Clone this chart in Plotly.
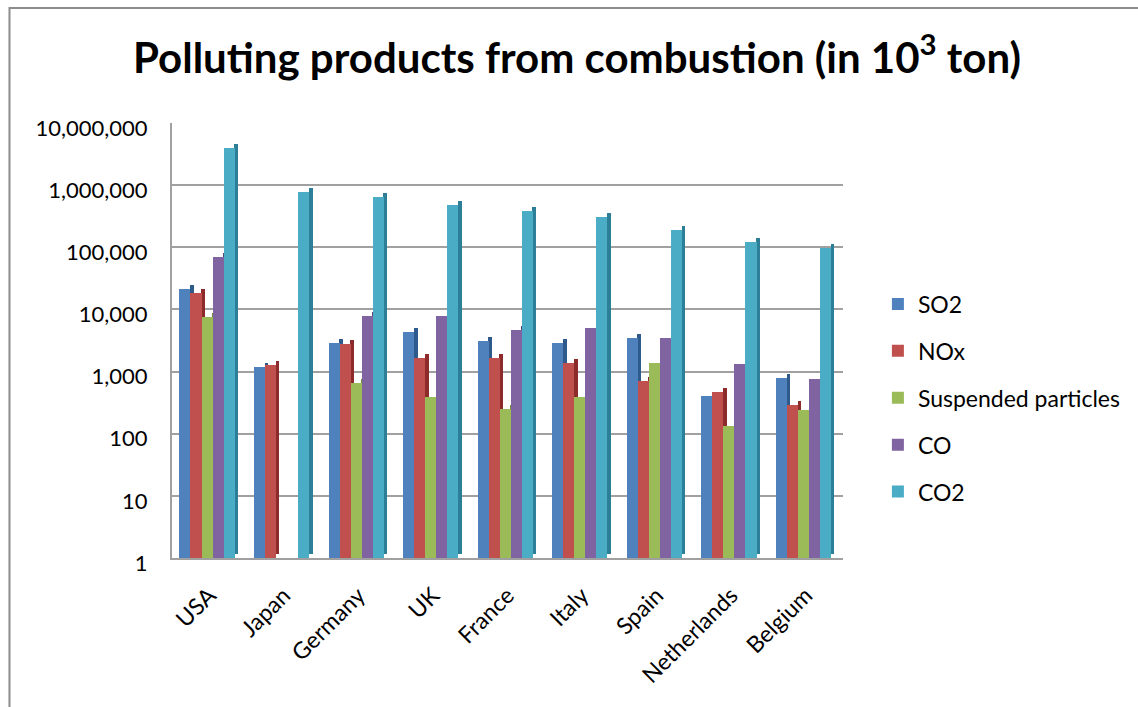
import plotly.graph_objects as go
import numpy as np

countries = ["USA", "Japan", "Germany", "UK", "France", "Italy", "Spain", "Netherlands", "Belgium"]
so2 = [21000, 1180, 2930, 4300, 3150, 2930, 3450, 405, 783]
nox = [18700, 1280, 2790, 1640, 1680, 1365, 708, 477, 291]
suspended = [7500, 1, 650, 395, 247, 386, 1365, 135, 242]
co = [71000, 1, 7880, 7880, 4700, 5000, 3450, 1315, 754]
co2 = [3960000, 790000, 633000, 483000, 387000, 306000, 191000, 123000, 99000]

series_names = ["SO2", "NOx", "Suspended particles", "CO", "CO2"]
series_values = [so2, nox, suspended, co, co2]
colors = ["#4F81BD", "#C0504D", "#9BBB59", "#8064A2", "#4BACC6"]
side_colors = ["#2F5A8C", "#8C2B29", "#6E8C36", "#5A427A", "#2C7F96"]
tick_vals = [1, 10, 100, 1000, 10000, 100000, 1000000, 10000000]
tick_text = ["1", "10", "100", "1,000", "10,000", "100,000", "1,000,000", "10,000,000"]

FONT = "Lato"
W, H = 1138, 707
ml, mr, mt, mb = 172, 1138 - 845, 123, 707 - 558
pw, ph = W - ml - mr, H - mt - mb

fig = go.Figure()
xs = np.arange(len(countries))
bw = 0.148
start = -0.40
depth = 0.05
lift = 10 ** (4 / 62.0)  # pixel-lift for the 3D side face in log units

for i, (name, vals, c, sc) in enumerate(zip(series_names, series_values, colors, side_colors)):
    off = start + i * bw
    # side face (darker) to give a 3D look
    fig.add_trace(go.Bar(
        x=xs, y=[v * lift - lift for v in vals], base=[lift] * len(vals),
        width=depth, offset=off + bw - 0.005, marker=dict(color=sc, line=dict(width=0)),
        showlegend=False, hoverinfo="skip"))
    fig.add_trace(go.Bar(
        x=xs, y=vals, name=name, width=bw, offset=off,
        marker=dict(color=c, line=dict(width=0)), legendgroup=name))

fig.update_layout(
    width=W, height=H,
    barmode="overlay",
    margin=dict(l=ml, r=mr, t=mt, b=mb),
    paper_bgcolor="white", plot_bgcolor="white",
    font=dict(family=FONT, size=20, color="black"),
    title=dict(text="<b>Polluting products from combustion (in 10<sup>3</sup> ton)</b>",
               x=(577) / W, xanchor="center", y=1 - 58 / H, yanchor="middle",
               font=dict(family=FONT, size=42, color="black")),
    xaxis=dict(tickmode="array", tickvals=list(xs), ticktext=countries,
               range=[-0.5, len(countries) - 0.5], tickangle=-45,
               showgrid=False, zeroline=False, showline=True, linecolor="#A0A0A0", linewidth=2,
               ticks="", ticklabelstandoff=13, tickfont=dict(family=FONT, size=23), fixedrange=True),
    yaxis=dict(type="log", range=[0, 7], tickvals=tick_vals, ticktext=tick_text,
               showgrid=True, gridcolor="#A0A0A0", gridwidth=2,
               showline=True, linecolor="#A0A0A0", linewidth=2, ticks="",
               ticklabelshift=5, ticklabelstandoff=18,
               tickfont=dict(family=FONT, size=22), zeroline=False),
    legend=dict(x=(880 - ml) / pw, xanchor="left", y=(558 - 398) / ph, yanchor="middle",
                font=dict(family=FONT, size=23), tracegroupgap=14, bgcolor="rgba(0,0,0,0)"),
    bargap=0, showlegend=True,
    shapes=[dict(type="rect", xref="paper", yref="paper",
                 x0=(9 - ml) / pw, x1=(W + 5 - ml) / pw,
                 y0=(558 - (H + 5)) / ph, y1=(558 - 8) / ph,
                 line=dict(color="#8C8C8C", width=2), fillcolor="rgba(0,0,0,0)", layer="below")],
)

fig.write_html("out.html")
